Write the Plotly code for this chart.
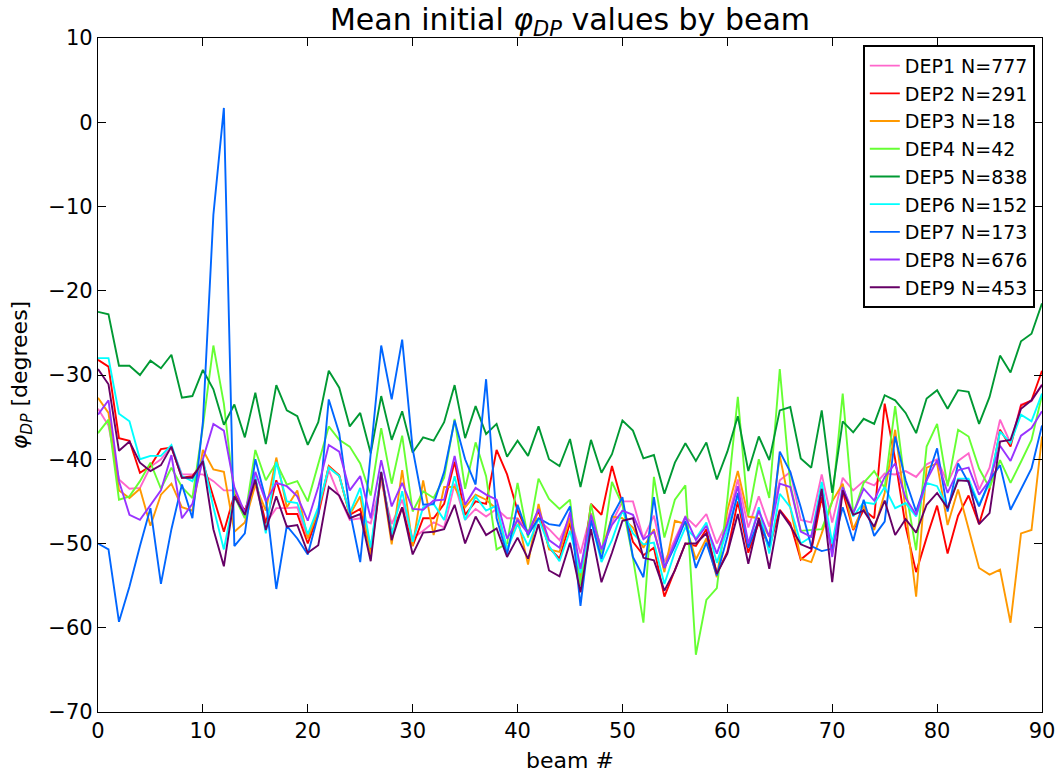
import plotly.graph_objects as go

beams = list(range(91))

names = ["DEP1 N=777", "DEP2 N=291", "DEP3 N=18", "DEP4 N=42", "DEP5 N=838",
         "DEP6 N=152", "DEP7 N=173", "DEP8 N=676", "DEP9 N=453"]
colors = ["#ff66cc", "#ff0000", "#ff9900", "#66ff33", "#009933",
          "#00ffff", "#0066ff", "#9933ff", "#660066"]

dep1 = [-34, -36, -42.4, -43.5, -43.4, -40.9, -40, -38.5, -41.8, -41.8,
        -41.8, -42.6, -43.7, -43.7, -46.6, -43, -47.6, -45.8, -45.8, -45.7,
        -49.4, -46.6, -41.3, -44.4, -47.2, -47, -47.6, -42.6, -47.7, -44.8,
        -49.4, -48.5, -47.5, -48.1, -42.9, -47.2, -45.9, -46.8, -45.9, -47,
        -47, -48.6, -47.2, -48.3, -49.6, -46.8, -51.2, -46.4, -50.7, -47.5,
        -45, -45, -49.4, -46.7, -52.2, -49.5, -46.8, -48, -46.5, -50,
        -47.4, -42.4, -48.1, -44.4, -48, -42.5, -41.5, -47.2, -47.5, -41.8,
        -47.5, -42.2, -43.7, -42.6, -43.1, -41.7, -41.8, -41.4, -42.1, -40.6,
        -40, -42.8, -40.2, -39.3, -43.6, -41, -35.3, -38.1, -33.5, -33.1, -31.1]

dep2 = [-28.2, -29, -37.5, -37.8, -41.6, -40.8, -38.8, -38.6, -42.2, -42,
        -40.4, -44.4, -48.6, -44.2, -46.1, -42.4, -47.6, -42.5, -46.5, -46.5,
        -50, -46.5, -40.8, -41.9, -46.6, -45.9, -51, -41.6, -48.8, -45.7,
        -50.3, -47, -47, -45.3, -40.3, -46.6, -45, -45.3, -38.9, -41.8,
        -46.1, -48.8, -46.1, -50.5, -51.8, -47.5, -54.5, -45.3, -46.6, -40.8,
        -45.4, -49.8, -51.4, -50.5, -56.3, -53.2, -50, -50.3, -48.3, -53.6,
        -51, -45, -51.1, -47.5, -50.5, -46, -47.6, -51.9, -50.9, -44.5,
        -51, -43.8, -48.4, -46, -47, -33.4, -40, -48, -53.4, -49.3,
        -45.5, -51.2, -46.7, -44.3, -47.7, -43.5, -36.5, -38.5, -33.6, -33, -29.5]

dep3 = [-32.7, -34.5, -43.7, -44.6, -43.5, -47.9, -44.2, -42.9, -45.7, -46.1,
        -38.9, -41.2, -41.5, -48.6, -47.5, -43, -46.1, -39.8, -45.7, -43.7,
        -49.4, -46.1, -40.9, -42, -46.6, -44.4, -51.5, -41.8, -50.1, -41.3,
        -50.3, -42.5, -49, -43.3, -43.3, -45.7, -44.2, -44.8, -45.9, -50.7,
        -47, -52.5, -45.3, -50.7, -51, -47, -54.3, -46.6, -51, -46.8,
        -47, -48.1, -50.5, -48.3, -53.4, -47.3, -47.7, -51.9, -49.4, -54,
        -46.1, -41.4, -46.8, -47, -49.2, -39.6, -45.7, -51.8, -52.2, -48.8,
        -45, -42.9, -48.3, -45.5, -48.4, -44, -36.5, -46, -56.3, -41,
        -40.5, -47.8, -43.6, -48.1, -52.9, -53.7, -53.1, -59.4, -48.8, -48.4, -37.3]

dep4 = [-36.9, -35.3, -44.8, -44.4, -42.6, -40.4, -43.5, -41, -43.3, -44.6,
        -36.1, -26.5, -33.4, -44.4, -47, -38.9, -42.5, -40.4, -43, -42.6,
        -45, -40.4, -36.1, -37.7, -38.5, -40.5, -44.3, -36.3, -42.9, -37.2,
        -46.2, -43.8, -44.6, -42.2, -35.2, -43.5, -38, -42, -50.7, -50,
        -42.8, -49.3, -42.3, -44.7, -45.9, -44.8, -55, -45.3, -51.2, -42.7,
        -45.4, -51.7, -59.4, -42.1, -49.3, -44.8, -43.1, -63.2, -56.7, -55.3,
        -44.8, -32.6, -46.7, -40, -44.6, -29.3, -43, -48.5, -48.4, -48.3,
        -45, -32.2, -46.5, -42.8, -41.4, -43.4, -33.7, -43.6, -50.8, -38.5,
        -35.8, -43.2, -36.5, -37.3, -41.1, -43.4, -40.1, -42.8, -40.3, -37.7, -32.4]

dep5 = [-22.5, -22.8, -28.9, -28.9, -30, -28.3, -29.2, -27.6, -32.7, -32.5,
        -29.4, -31.7, -35.9, -33.5, -37.4, -32.1, -38.2, -31.2, -34.2, -34.9,
        -38.3, -35.6, -29.5, -31.5, -36.1, -34.5, -39.3, -32.5, -37.7, -34.3,
        -39.2, -37.4, -37.8, -35.6, -31.2, -37.5, -33.7, -37, -35.8, -39.7,
        -37.8, -39.6, -36.1, -40, -40.8, -37.6, -43.3, -37.7, -41.6, -39.4,
        -35.4, -36.6, -39.9, -39.5, -44.1, -40.4, -38.1, -40.2, -38, -42.4,
        -39.1, -34.9, -41.4, -37.3, -40.1, -34.2, -33.8, -39.9, -41, -34.2,
        -44, -35.5, -36.8, -35.2, -35.8, -32.4, -33, -34.5, -36.9, -32.8,
        -31.8, -34, -31.8, -32, -35.8, -32.6, -27.7, -29.7, -26, -25.1, -21.5]

dep6 = [-28, -28, -34.6, -35.5, -40, -39.6, -39.6, -38.3, -42, -42.6,
        -40, -45.7, -50.7, -44.4, -46.6, -42, -48.8, -40.3, -45, -45.2,
        -48.9, -45.7, -41, -42, -46.4, -43.4, -50.5, -41.5, -49, -43.8,
        -49.8, -45.7, -45.3, -47.2, -42, -47.2, -44.4, -46.1, -45.5, -50.7,
        -47.7, -50.3, -47, -50.3, -52.1, -48.5, -53.5, -47.2, -52.2, -49.6,
        -46.1, -48.8, -50.1, -49.9, -54.8, -51, -48.1, -49.4, -47.5, -52.3,
        -48.3, -44.3, -50.2, -45.7, -51.2, -44.1, -45.7, -50, -49.2, -42.7,
        -50, -43.3, -46.8, -45.1, -45.3, -43.3, -45.8, -45.2, -46.8, -42.8,
        -43.2, -45.8, -42.3, -42.3, -45.4, -42.8, -36.7, -38.1, -34.7, -35.5, -32.2]

dep7 = [-50, -50.7, -59.3, -55.1, -50.3, -45.8, -54.8, -48.3, -43, -47,
        -35.6, -11, 1.7, -50.3, -48.8, -40, -44.8, -55.4, -47.9, -49.4,
        -51.3, -46.6, -32.9, -36.9, -46.1, -52.2, -39.3, -26.5, -32.9, -25.8,
        -38.8, -45.4, -45.3, -41.5, -35.4, -40, -43, -30.5, -47, -51.3,
        -45.4, -49, -47, -47.7, -47.9, -45.6, -57.4, -47.2, -51.8, -46.8,
        -44.5, -51.6, -54, -44.5, -52.9, -50.3, -47.3, -52.9, -49.9, -53.8,
        -49.2, -44, -50.5, -47.2, -50.3, -39.1, -41.5, -45.7, -50.3, -50.9,
        -50.6, -45.7, -49.7, -44.8, -49.1, -47.4, -37.3, -42.5, -46.2, -42.5,
        -38.7, -46.2, -40.5, -42.8, -45.6, -42.5, -40.7, -46, -43.6, -41.1, -36]

dep8 = [-34.7, -33, -42.6, -46.6, -47.2, -45.5, -43.7, -39.5, -47, -45.3,
        -40, -35.8, -36.6, -43.3, -46.4, -41.5, -45, -42.8, -43.2, -44.4,
        -47.3, -43.3, -38.3, -39.1, -43.7, -42, -47, -40.1, -45.6, -42.8,
        -45.9, -46, -44.9, -44.8, -39.6, -45.4, -43.4, -44.2, -44.8, -49.4,
        -47.2, -48.8, -45.9, -49.6, -50.5, -46.3, -53, -46.6, -50.7, -47.8,
        -46.1, -46.6, -49.5, -48.6, -52.9, -49.9, -46.8, -49.6, -47.9, -51.2,
        -47.7, -43.2, -50, -46.1, -49.2, -42.9, -43.3, -48.6, -49.2, -43.7,
        -51.6, -43.3, -46.4, -43.5, -44.9, -42.1, -40.5, -44.6, -46.6, -42.5,
        -40.1, -44, -41.3, -41, -44.2, -42.5, -38.4, -40.2, -37.2, -36.3, -34.3]

dep9 = [-29.3, -31.1, -39, -37.9, -40.4, -41.4, -40.7, -38.5, -42.2, -42.2,
        -40.2, -48.3, -52.7, -44.4, -46.6, -42.4, -48.4, -44.4, -48, -47.8,
        -51.1, -50.2, -43.3, -44.3, -47, -46.5, -52.1, -41.5, -49.6, -45.7,
        -51.3, -48.7, -48.6, -48.3, -45.4, -50, -46.8, -49, -48.2, -51.6,
        -49.3, -51.8, -47.7, -53.2, -53.9, -49.9, -55.8, -48.3, -54.6, -51.1,
        -47.3, -47, -51.7, -52, -55.6, -53.2, -50, -50, -48.8, -53.6,
        -51.2, -46.5, -52.4, -47, -53, -46.1, -47.9, -50.1, -50.6, -43.5,
        -54.6, -43.7, -46.6, -46.1, -48, -44.9, -49, -47.1, -48.7, -45.4,
        -44, -45.8, -42.5, -42.6, -47.7, -46.4, -37.9, -37.7, -34, -33, -31.2]

series = [dep1, dep2, dep3, dep4, dep5, dep6, dep7, dep8, dep9]

x_ticks = list(range(0, 91, 10))
y_ticks = list(range(-70, 11, 10))

FONT = "DejaVu Sans"

fig = go.Figure()
for name, col, ys in zip(names, colors, series):
    fig.add_trace(go.Scatter(x=beams, y=ys, mode="lines", name=name,
                             line=dict(color=col, width=1.9)))

axis_common = dict(showline=True, linecolor="black", linewidth=1.3, mirror="allticks",
                   ticks="inside", ticklen=8, tickwidth=1.2, tickcolor="black",
                   showgrid=False, zeroline=False, automargin=False,
                   tickfont=dict(family=FONT, size=21, color="black"))

fig.update_layout(
    width=1057, height=773,
    margin=dict(l=98, r=15, t=38, b=61),
    paper_bgcolor="white", plot_bgcolor="white",
    font=dict(family=FONT, color="black"),
    title=dict(text="Mean initial <i>φ</i><sub><i>DP</i></sub> values by beam",
               x=570 / 1057, xanchor="center", y=1 - 19 / 773, yanchor="middle",
               font=dict(family=FONT, size=30, color="black")),
    xaxis=dict(range=[0, 90], tickvals=x_ticks,
               title=dict(text="beam #", font=dict(family=FONT, size=22), standoff=11),
               **axis_common),
    yaxis=dict(range=[-70, 10], tickvals=y_ticks,
               title=dict(text="<i>φ</i><sub><i>DP</i></sub> [degrees]", font=dict(family=FONT, size=22), standoff=14),
               **axis_common),
    legend=dict(x=0.9926, y=0.9896, xanchor="right", yanchor="top",
                bgcolor="white", bordercolor="black", borderwidth=1.8,
                font=dict(family=FONT, size=19, color="black"),
                itemwidth=30),
    showlegend=True,
)

fig.write_html("out.html")
